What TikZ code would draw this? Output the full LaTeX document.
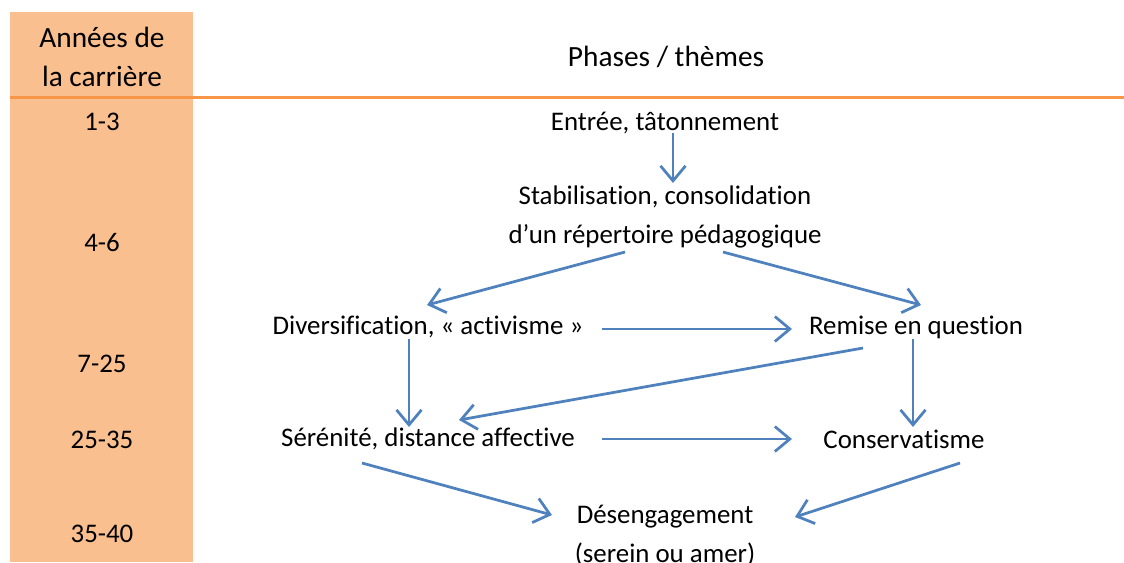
\documentclass[tikz,border=0pt]{standalone}
\usepackage{fontspec}
\setmainfont{Carlito}[Ligatures=NoCommon]
\usetikzlibrary{arrows.meta}
\usetikzlibrary{calc}
\definecolor{colfill}{HTML}{FABF8F}
\definecolor{colrule}{HTML}{F79646}
\definecolor{colarrow}{HTML}{4F81BD}

\begin{document}
\begin{tikzpicture}[x=0.02cm, y=-0.02cm,
  txt/.style={inner sep=0pt, align=center, font=\fontsize{15.3}{22.2}\selectfont},
  headtxt/.style={txt, font=\fontsize{16.7}{22.2}\selectfont},
  link/.style={draw=colarrow, line width=0.055cm,
    -{Straight Barb[length=0.3cm, width=0.5cm, line width=0.055cm]}}]
\useasboundingbox (0,0) rectangle (1124,562);
\fill[colfill] (10,12) rectangle (193,562);
\draw[colrule, line width=0.06cm] (10,97) -- (1124,97);

\node[headtxt] (head) at (102,57) {Années de\\la carrière};
\node[headtxt] (phases) at (666,57) {Phases / thèmes};
\node[txt] (y1) at (102,122) {1-3};
\node[txt] (y2) at (102,243) {4-6};
\node[txt] (y3) at (102,364) {7-25};
\node[txt] (y4) at (102,440) {25-35};
\node[txt] (y5) at (102,534) {35-40};

\node[txt] (entree) at (665,123) {Entrée, tâtonnement};
\node[txt] (stab) at (665,217) {Stabilisation, consolidation\\d’un répertoire pédagogique};
\node[txt] (div) at (428,327) {Diversification, « activisme »};
\node[txt] (rem) at (916,327) {Remise en question};
\node[txt] (ser) at (428,439) {Sérénité, distance affective};
\node[txt] (cons) at (904,439) {Conservatisme};
\node[txt] (des) at (665,536) {Désengagement\\(serein ou amer)};

\draw[link] ($(entree)+(8,10)$) -- ($(stab)+(8,-34)$);
\draw[link] ($(stab)+(-40,35)$) -- ($(div)+(-1,-22)$);
\draw[link] ($(stab)+(58,35)$) -- ($(rem)+(5,-22)$);
\draw[link] ($(div)+(174,2)$) -- ($(rem)+(-124,2)$);
\draw[link] ($(div)+(-19,12)$) -- ($(ser)+(-19,-12)$);
\draw[link] ($(rem)+(-53,21)$) -- ($(ser)+(31,-19)$);
\draw[link] ($(rem)+(-3,12)$) -- ($(cons)+(9,-12)$);
\draw[link] ($(ser)+(174,0)$) -- ($(cons)+(-112,0)$);
\draw[link] ($(ser)+(-66,24)$) -- ($(des)+(-113,-21)$);
\draw[link] ($(cons)+(56,24)$) -- ($(des)+(130,-19)$);
\end{tikzpicture}
\end{document}
